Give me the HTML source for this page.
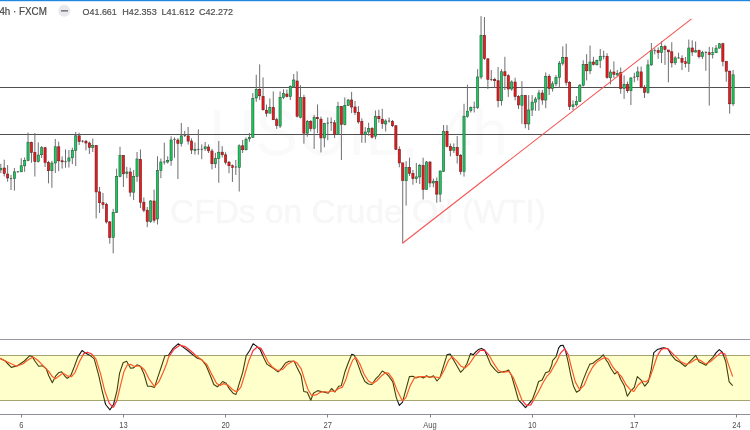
<!DOCTYPE html>
<html><head><meta charset="utf-8"><style>
html,body{margin:0;padding:0;width:750px;height:430px;overflow:hidden;background:#fff;}
svg{display:block;will-change:transform;}
text{font-family:"Liberation Sans",sans-serif;}
</style></head><body>
<svg width="750" height="430" viewBox="0 0 750 430">
<rect x="0" y="0" width="750" height="430" fill="#fff"/>
<text x="209" y="155" font-size="64" fill="#fafafa">USOIL, 4h</text>
<text x="170" y="223" font-size="33.5" fill="#f7f7f7" stroke="#f7f7f7" stroke-width="0.5">CFDs on Crude Oil (WTI)</text>
<rect x="0" y="87" width="750" height="1" fill="#4f4f4f"/>
<rect x="0" y="134" width="750" height="1" fill="#4f4f4f"/>
<path d="M0.8 163.8V173.1M4.21 159.7V176.4M7.61 165V181.7M11.02 174.9V190M14.42 168V190.7M17.83 171V172.5M21.24 158.2V172M24.64 157.5V171.8M28.05 132.5V161.3M31.45 141.6V162.8M34.86 133V176.5M38.27 142.4V162.5M41.67 146V158M45.08 146.8V166.9M48.48 160.8V183.4M51.89 160.8V187.8M55.3 139V173M58.7 141.6V171.2M62.11 156.4V168.6M65.51 149.4V167.7M68.92 150V167.5M72.33 147.7V164.2M75.73 132V166M79.14 132.8V145M82.54 140V142.5M85.95 139.8V150.3M89.36 141.6V154M92.76 138.6V152M96.17 145V218.4M99.57 187V213M102.98 193V208.8M106.39 202.7V223.6M109.79 221V243.7M113.2 208.8V253.3M116.6 168.6V213M120.01 146.8V177.3M123.42 155V187M126.82 166.9V178.2M130.23 167.7V196.5M133.63 170V200M137.04 152V181.8M140.45 149.4V208M143.85 197.5V212.3M147.26 207V227.2M150.66 200V222.8M154.07 189.7V222.8M157.48 156.3V224.5M160.88 158.5V178.2M164.29 142.7V164.6M167.69 156.3V163.5M171.1 136.3V165.8M174.51 137.4V157.8M177.91 138.1V179M181.32 123V146.5M184.72 130.9V137M188.13 127V144.5M191.54 138.4V154M194.94 142.5V154.6M198.35 129.4V154.6M201.75 144.4V159.2M205.16 142V151M208.57 144.4V153M211.97 148.8V169.3M215.38 152.8V168M218.78 141V182.8M222.19 146.2V157.5M225.6 152.3V164.5M229 161V173.2M232.41 164.5V182M235.81 160V175M239.22 144.4V191.5M242.63 140V153M246.03 137.5V150.5M249.44 133V141.8M252.84 93.1V138M256.25 74.8V101.9M259.66 64.4V100M263.06 77.4V110.6M266.47 104.5V116.7M269.87 98.4V113.2M273.28 91.4V120.2M276.69 117.6V128.9M280.09 91.4V128M283.5 89.3V99.2M286.9 89.5V97.5M290.31 85.3V100M293.72 74V88M297.12 71.3V117.6M300.53 85.2V118.4M303.93 94.8V143.7M307.34 120V136.7M310.75 120V131.5M314.15 114.9V148.9M317.56 104.4V133.2M320.96 116.6V152.4M324.37 122.7V147.2M327.78 117.5V140.2M331.18 117.4V130.8M334.59 120V138M337.99 101.8V135M341.4 106V160M344.81 97.4V125.4M348.21 99V106M351.62 91.9V113.1M355.02 101V115M358.43 106.2V123.6M361.84 118.4V142.8M365.24 127.1V142.8M368.65 122.7V135.8M372.05 127.1V138.4M375.46 110.5V139.3M378.87 109.7V122.7M382.27 108.8V128.8M385.68 119.2V131.5M389.08 117.5V122.7M392.49 120V127.1M395.9 125.5V150M399.3 146.3V167.3M402.71 162.9V243.3M406.11 161.2V205.6M409.52 157.7V176M412.93 169.9V184.7M416.33 162.9V183M419.74 163.8V184M423.14 157.7V199.5M426.55 161V190M429.96 161.2V187.3M433.36 178.6V187.3M436.77 177.5V202.8M440.17 170.5V202M443.58 125V172M446.99 125V147.3M450.39 143.5V156.3M453.8 143.5V153M457.2 136V163.5M460.61 154V174.5M464.02 103.8V176.6M467.42 84.7V117.8M470.83 106.5V112.5M474.23 101.6V112.5M477.64 69.2V109M481.05 16.1V79.2M484.45 17V60M487.86 58.5V89M491.26 70V81.2M494.67 77.7V88.1M498.08 67V107.3M501.48 69.2V105.6M504.89 56.8V90M508.29 74.2V96.9M511.7 80.3V90.8M515.11 77.7V100.4M518.51 95.1V109M521.92 81.2V123.9M525.32 95V128.3M528.73 95.1V130M532.14 95.1V116M535.54 96.9V110.8M538.95 89.9V110.8M542.35 90V104.7M545.76 72.4V108.2M549.17 74.2V95.1M552.57 81.2V91.6M555.98 75V86.4M559.38 61V87.5M562.79 46.3V65.5M566.2 43.7V85.6M569.6 81.2V110M573.01 100.4V110M576.41 96V106.5M579.82 84V102M583.23 60.3V86.5M586.63 54.2V80.4M590.04 45.5V74.2M593.44 56.8V65.5M596.85 59.5V65.5M600.26 49V68.1M603.66 50.7V59.4M607.07 53.3V78.6M610.47 69.5V84.3M613.88 61.4V78M617.29 70V76.2M620.69 67.5V93.7M624.1 75.4V98.9M627.5 81.5V92.8M630.91 77V105M634.32 72.7V82.3M637.72 66.6V80.6M641.13 66.6V88.4M644.53 85V98M647.94 59.7V93.7M651.35 43V65.8M654.75 48.3V54.4M658.16 47.4V58.8M661.56 41.3V63.1M664.97 44.8V64.9M668.38 50V82.3M671.78 42.2V67.5M675.19 56.2V64.9M678.59 52.7V58.8M682 55.3V70.1M685.41 57V67.5M688.81 39.6V71.9M692.22 40.3V55.9M695.62 41.5V52.7M699.03 49.5V58.5M702.44 50.8V59M705.84 51.3V70.8M709.25 46.9V105.6M712.65 47.2V58.5M716.06 45V53M719.47 43V48.5M722.87 42.8V66.4M726.28 61.2V81.7M729.68 70.5V113.7M733.09 70V106" stroke="#6f6f73" stroke-width="1" fill="none"/><g fill="#16cc5e" stroke="#2a5a3a" stroke-width="0.6"><rect x="-0.3" y="168.5" width="2.2" height="1.4"/><rect x="13.32" y="171.8" width="2.2" height="6.8"/><rect x="20.14" y="165.8" width="2.2" height="6"/><rect x="23.54" y="160.5" width="2.2" height="5.3"/><rect x="26.95" y="142.4" width="2.2" height="18.1"/><rect x="37.17" y="155" width="2.2" height="6.6"/><rect x="40.57" y="147.7" width="2.2" height="7"/><rect x="50.79" y="163" width="2.2" height="7.7"/><rect x="54.2" y="146.8" width="2.2" height="16.2"/><rect x="67.82" y="157.9" width="2.2" height="3.2"/><rect x="71.23" y="150.3" width="2.2" height="7.5"/><rect x="74.63" y="135.8" width="2.2" height="14.5"/><rect x="91.66" y="145.6" width="2.2" height="1.7"/><rect x="112.1" y="212.3" width="2.2" height="25.3"/><rect x="115.5" y="176.5" width="2.2" height="35.8"/><rect x="118.91" y="155.5" width="2.2" height="21"/><rect x="125.72" y="172" width="2.2" height="1.5"/><rect x="132.53" y="176.5" width="2.2" height="15.7"/><rect x="135.94" y="159" width="2.2" height="17.5"/><rect x="149.56" y="201" width="2.2" height="20.4"/><rect x="156.38" y="170.5" width="2.2" height="48.5"/><rect x="159.78" y="162" width="2.2" height="8.5"/><rect x="166.59" y="160.5" width="2.2" height="1.5"/><rect x="170" y="140" width="2.2" height="20.5"/><rect x="180.22" y="135.9" width="2.2" height="7.5"/><rect x="193.84" y="149.3" width="2.2" height="1"/><rect x="204.06" y="146.8" width="2.2" height="2"/><rect x="214.28" y="158.4" width="2.2" height="5.3"/><rect x="217.68" y="152.2" width="2.2" height="6.2"/><rect x="238.12" y="145.8" width="2.2" height="21.6"/><rect x="244.93" y="139.2" width="2.2" height="10.5"/><rect x="248.34" y="137.4" width="2.2" height="1.4"/><rect x="251.74" y="98.4" width="2.2" height="39"/><rect x="255.15" y="89.3" width="2.2" height="8.7"/><rect x="268.77" y="107.4" width="2.2" height="5.8"/><rect x="278.99" y="97.5" width="2.2" height="28.5"/><rect x="282.4" y="93.5" width="2.2" height="4"/><rect x="289.21" y="86.5" width="2.2" height="10.1"/><rect x="292.62" y="80" width="2.2" height="6.5"/><rect x="299.43" y="97.4" width="2.2" height="20.1"/><rect x="306.24" y="121.5" width="2.2" height="11.7"/><rect x="313.05" y="117.5" width="2.2" height="11"/><rect x="323.27" y="123.6" width="2.2" height="14.3"/><rect x="336.89" y="106.5" width="2.2" height="27.9"/><rect x="343.71" y="105.3" width="2.2" height="19.2"/><rect x="347.11" y="100" width="2.2" height="5.3"/><rect x="364.14" y="132" width="2.2" height="2.4"/><rect x="367.55" y="128.5" width="2.2" height="3.5"/><rect x="374.36" y="116.3" width="2.2" height="19.9"/><rect x="384.58" y="121" width="2.2" height="3"/><rect x="405.01" y="167.3" width="2.2" height="13.4"/><rect x="415.23" y="176.9" width="2.2" height="1.7"/><rect x="418.64" y="165.5" width="2.2" height="11.4"/><rect x="425.45" y="162" width="2.2" height="27.4"/><rect x="432.26" y="181.2" width="2.2" height="1.8"/><rect x="439.07" y="171" width="2.2" height="23.1"/><rect x="442.48" y="131.3" width="2.2" height="40.1"/><rect x="452.7" y="147.3" width="2.2" height="3.2"/><rect x="462.92" y="116.2" width="2.2" height="55.2"/><rect x="466.32" y="111.2" width="2.2" height="5.2"/><rect x="469.73" y="107.5" width="2.2" height="3.1"/><rect x="476.54" y="77" width="2.2" height="30.3"/><rect x="479.95" y="35.3" width="2.2" height="41.7"/><rect x="500.38" y="71.7" width="2.2" height="29"/><rect x="510.6" y="82" width="2.2" height="7"/><rect x="520.82" y="95.5" width="2.2" height="9.7"/><rect x="527.63" y="110" width="2.2" height="13.9"/><rect x="531.04" y="102.1" width="2.2" height="7.9"/><rect x="534.44" y="99" width="2.2" height="3.1"/><rect x="537.85" y="93" width="2.2" height="6"/><rect x="544.66" y="76.3" width="2.2" height="23.7"/><rect x="551.47" y="83.8" width="2.2" height="4.7"/><rect x="554.88" y="77.5" width="2.2" height="6.3"/><rect x="558.28" y="63.2" width="2.2" height="14.3"/><rect x="561.69" y="57.3" width="2.2" height="5.9"/><rect x="571.91" y="104.8" width="2.2" height="1.7"/><rect x="575.31" y="101.3" width="2.2" height="3.5"/><rect x="578.72" y="85.2" width="2.2" height="16.4"/><rect x="582.13" y="64.3" width="2.2" height="20.9"/><rect x="588.94" y="62" width="2.2" height="8.8"/><rect x="595.75" y="60.3" width="2.2" height="4.4"/><rect x="599.16" y="56.3" width="2.2" height="4"/><rect x="609.37" y="72" width="2.2" height="5.8"/><rect x="616.19" y="73.3" width="2.2" height="1.7"/><rect x="623" y="84.4" width="2.2" height="4"/><rect x="629.81" y="78" width="2.2" height="12.7"/><rect x="636.62" y="71.9" width="2.2" height="4.8"/><rect x="646.84" y="64.9" width="2.2" height="27.5"/><rect x="650.25" y="50.6" width="2.2" height="14.3"/><rect x="660.46" y="46.6" width="2.2" height="6.1"/><rect x="674.09" y="57.9" width="2.2" height="4.9"/><rect x="687.71" y="48" width="2.2" height="15.5"/><rect x="694.52" y="50.7" width="2.2" height="1.3"/><rect x="701.34" y="52.6" width="2.2" height="4.1"/><rect x="711.55" y="52.7" width="2.2" height="1.6"/><rect x="714.96" y="48.1" width="2.2" height="4.7"/><rect x="718.37" y="43.7" width="2.2" height="4.4"/><rect x="731.99" y="74.8" width="2.2" height="29"/></g><g fill="#ea1a1f" stroke="#6e1c1c" stroke-width="0.6"><rect x="3.11" y="168" width="2.2" height="5.4"/><rect x="6.51" y="174.1" width="2.2" height="3.8"/><rect x="30.35" y="142.4" width="2.2" height="10.1"/><rect x="33.76" y="152.4" width="2.2" height="9.2"/><rect x="43.98" y="147.7" width="2.2" height="14.8"/><rect x="47.38" y="162.5" width="2.2" height="8.2"/><rect x="57.6" y="146.8" width="2.2" height="14"/><rect x="61.01" y="160.8" width="2.2" height="1"/><rect x="78.04" y="135.8" width="2.2" height="5.8"/><rect x="84.85" y="141.2" width="2.2" height="1.8"/><rect x="88.26" y="143" width="2.2" height="4.3"/><rect x="95.07" y="145.6" width="2.2" height="46.3"/><rect x="98.47" y="191.9" width="2.2" height="10.8"/><rect x="101.88" y="202.7" width="2.2" height="1.7"/><rect x="105.29" y="204.4" width="2.2" height="17.5"/><rect x="108.69" y="221.9" width="2.2" height="15.7"/><rect x="122.32" y="155.5" width="2.2" height="18.3"/><rect x="129.13" y="172" width="2.2" height="20.2"/><rect x="139.35" y="159.5" width="2.2" height="42.7"/><rect x="142.75" y="202.2" width="2.2" height="8"/><rect x="146.16" y="210.2" width="2.2" height="11.2"/><rect x="152.97" y="201" width="2.2" height="19.2"/><rect x="176.81" y="140" width="2.2" height="3.4"/><rect x="187.03" y="135.9" width="2.2" height="5.2"/><rect x="190.44" y="141.1" width="2.2" height="8.9"/><rect x="207.47" y="147" width="2.2" height="3.8"/><rect x="210.87" y="151" width="2.2" height="12.7"/><rect x="221.09" y="152.2" width="2.2" height="2.5"/><rect x="224.5" y="154.9" width="2.2" height="7.3"/><rect x="227.9" y="162.2" width="2.2" height="3.5"/><rect x="231.31" y="165.7" width="2.2" height="1.7"/><rect x="241.53" y="145.8" width="2.2" height="3.9"/><rect x="258.56" y="89.3" width="2.2" height="6.5"/><rect x="261.96" y="96.3" width="2.2" height="13.4"/><rect x="265.37" y="110.2" width="2.2" height="3"/><rect x="272.18" y="107.4" width="2.2" height="12.3"/><rect x="275.59" y="119.7" width="2.2" height="5.7"/><rect x="285.8" y="94" width="2.2" height="2.6"/><rect x="296.02" y="81" width="2.2" height="35.2"/><rect x="302.83" y="97.4" width="2.2" height="35.8"/><rect x="309.65" y="121.5" width="2.2" height="7"/><rect x="316.46" y="117.5" width="2.2" height="1.2"/><rect x="319.86" y="119.2" width="2.2" height="18.7"/><rect x="333.49" y="122.7" width="2.2" height="11.7"/><rect x="340.3" y="106.5" width="2.2" height="18"/><rect x="350.52" y="100" width="2.2" height="7"/><rect x="353.92" y="107" width="2.2" height="5.3"/><rect x="357.33" y="112.3" width="2.2" height="9.6"/><rect x="360.74" y="121.5" width="2.2" height="12.9"/><rect x="370.95" y="128.5" width="2.2" height="8.7"/><rect x="377.77" y="116.3" width="2.2" height="2.4"/><rect x="381.17" y="119.2" width="2.2" height="4.4"/><rect x="391.39" y="121.5" width="2.2" height="4.2"/><rect x="394.8" y="125.7" width="2.2" height="23.6"/><rect x="398.2" y="149.3" width="2.2" height="13.6"/><rect x="401.61" y="162.9" width="2.2" height="17.5"/><rect x="408.42" y="167.3" width="2.2" height="6.1"/><rect x="411.83" y="173.4" width="2.2" height="5.2"/><rect x="422.04" y="165.5" width="2.2" height="23.9"/><rect x="428.86" y="162" width="2.2" height="21"/><rect x="435.67" y="181.5" width="2.2" height="12.6"/><rect x="445.89" y="131.3" width="2.2" height="15"/><rect x="449.29" y="146.3" width="2.2" height="4.2"/><rect x="456.1" y="147.3" width="2.2" height="8.2"/><rect x="459.51" y="155.3" width="2.2" height="16.1"/><rect x="483.35" y="35.3" width="2.2" height="23.3"/><rect x="486.76" y="58.8" width="2.2" height="20.6"/><rect x="493.57" y="79.4" width="2.2" height="1.3"/><rect x="496.98" y="80.7" width="2.2" height="20"/><rect x="503.79" y="71.7" width="2.2" height="4"/><rect x="507.19" y="75.7" width="2.2" height="13.3"/><rect x="514.01" y="82" width="2.2" height="14.5"/><rect x="517.41" y="96.5" width="2.2" height="8.5"/><rect x="524.22" y="95.5" width="2.2" height="28.4"/><rect x="541.25" y="93" width="2.2" height="7"/><rect x="548.07" y="76.3" width="2.2" height="12.2"/><rect x="565.1" y="57.3" width="2.2" height="25.1"/><rect x="568.5" y="82.4" width="2.2" height="24.1"/><rect x="585.53" y="64.3" width="2.2" height="6.5"/><rect x="592.34" y="62" width="2.2" height="2.3"/><rect x="605.97" y="56.3" width="2.2" height="21.2"/><rect x="612.78" y="72" width="2.2" height="2.3"/><rect x="619.59" y="72.7" width="2.2" height="15.7"/><rect x="626.4" y="84.4" width="2.2" height="6.3"/><rect x="640.03" y="71.9" width="2.2" height="15.3"/><rect x="643.43" y="87.2" width="2.2" height="5.2"/><rect x="657.06" y="50.6" width="2.2" height="2.1"/><rect x="663.87" y="46.6" width="2.2" height="2.9"/><rect x="667.28" y="50" width="2.2" height="1.8"/><rect x="670.68" y="51.8" width="2.2" height="11"/><rect x="680.9" y="58.3" width="2.2" height="4"/><rect x="684.31" y="61.7" width="2.2" height="1.8"/><rect x="691.12" y="48" width="2.2" height="4"/><rect x="697.93" y="50.4" width="2.2" height="6.3"/><rect x="708.15" y="52.7" width="2.2" height="1.6"/><rect x="721.77" y="43.7" width="2.2" height="17.7"/><rect x="725.18" y="61.4" width="2.2" height="9.8"/><rect x="728.58" y="71.2" width="2.2" height="32.6"/></g><rect x="9.92" y="178.1" width="2.2" height="1" fill="#4a5a50"/><rect x="16.73" y="171.3" width="2.2" height="1" fill="#4a5a50"/><rect x="64.41" y="161.1" width="2.2" height="1" fill="#4a5a50"/><rect x="81.44" y="140.7" width="2.2" height="1" fill="#4a5a50"/><rect x="163.19" y="161.5" width="2.2" height="1" fill="#4a5a50"/><rect x="173.41" y="138.9" width="2.2" height="1" fill="#4a5a50"/><rect x="183.62" y="135" width="2.2" height="1" fill="#4a5a50"/><rect x="197.25" y="148.9" width="2.2" height="1" fill="#4a5a50"/><rect x="200.65" y="148.8" width="2.2" height="1" fill="#4a5a50"/><rect x="234.71" y="166.5" width="2.2" height="1" fill="#4a5a50"/><rect x="326.68" y="122.6" width="2.2" height="1" fill="#4a5a50"/><rect x="330.08" y="121.95" width="2.2" height="1" fill="#4a5a50"/><rect x="387.98" y="120.5" width="2.2" height="1" fill="#4a5a50"/><rect x="473.13" y="106.8" width="2.2" height="1" fill="#4a5a50"/><rect x="490.16" y="78.9" width="2.2" height="1" fill="#4a5a50"/><rect x="602.56" y="55.8" width="2.2" height="1" fill="#4a5a50"/><rect x="633.22" y="76.6" width="2.2" height="1" fill="#4a5a50"/><rect x="653.65" y="50.1" width="2.2" height="1" fill="#4a5a50"/><rect x="677.49" y="57.4" width="2.2" height="1" fill="#4a5a50"/><rect x="704.74" y="51.9" width="2.2" height="1" fill="#4a5a50"/>
<line x1="402.5" y1="243.3" x2="691.5" y2="18.9" stroke="#f45656" stroke-width="1.15"/>
<rect x="0" y="0" width="750" height="1.2" fill="#1e88e5"/>
<g font-size="10.5" fill="#484848" stroke="#484848" stroke-width="0.2">
<text x="-0.6" y="14.8" textLength="47.4" lengthAdjust="spacingAndGlyphs">4h · FXCM</text>
</g>
<circle cx="64.3" cy="10.7" r="6" fill="#e9e9ed"/>
<rect x="61" y="10" width="7" height="1.6" fill="#7b7b80"/>
<g font-size="9.3" fill="#505050" stroke="#505050" stroke-width="0.2">
<text x="82.6" y="15.1" textLength="34.2" lengthAdjust="spacingAndGlyphs">O41.661</text>
<text x="122.3" y="15.1" textLength="34.4" lengthAdjust="spacingAndGlyphs">H42.353</text>
<text x="161.4" y="15.1" textLength="33.2" lengthAdjust="spacingAndGlyphs">L41.612</text>
<text x="199" y="15.1" textLength="34" lengthAdjust="spacingAndGlyphs">C42.272</text>
</g>
<rect x="0" y="339" width="750" height="1" fill="#9598a1"/>
<rect x="0" y="355" width="750" height="1" fill="#8f8f8f"/>
<rect x="0" y="400" width="750" height="1" fill="#8f8f8f"/>
<polyline points="0,358.3 5.2,361 11.3,367.4 17.4,365.8 24.4,361 29.7,355.7 32.3,356.6 34.9,361 38.7,366.2 42.7,365.8 46.2,368.8 48.8,375.8 52.3,382.7 55.8,375.8 58.5,372.8 61.6,371.7 64.6,375.8 67.2,378.4 70.7,375.8 74.2,367 77.7,357.4 82,350.5 85.5,353.1 91.6,356.6 94.2,358.8 98.6,374.9 102.1,390.6 105.6,404.5 110,409.8 113.5,404.5 117,390.6 119.6,373.1 123.1,362.7 126.6,361.3 130.6,368.3 133.5,367.9 137,364.8 140.5,366.2 144,374 147.5,386.2 151,386.2 154.5,387.4 158,376.6 161.5,366.2 165,355.7 168.5,355.3 172.8,348.7 178.1,343.8 182.4,346.6 187.7,350.5 192.9,354.8 197.3,358.3 201.6,359.5 206,365.3 210.4,375.8 213.8,384.5 217.3,386.7 220,384.5 222.6,381.5 226.1,383.3 229.6,389.2 233.1,393.2 236,394.4 239.2,383.6 242.7,372.3 246.2,355.7 249.7,350.5 253.1,343.8 256.6,346.1 260.1,349.6 263.6,357.4 267.1,364.4 270.6,366.5 274.1,368.8 277.6,371.7 278.5,371.7 282,367.9 285.5,363 289,361.3 292.4,361.3 294.2,361.3 296.8,367 301.2,375.8 303.8,391.5 307.3,392.3 310.8,400.2 313.4,393.2 317.7,390.6 321.2,391.5 324.7,392.3 328.2,393.2 331.5,388.5 334.9,392 338.7,386.2 341.3,385.7 344.8,372.3 348.3,362.7 351.8,354.3 354.4,355.3 357.9,364.4 361.4,374 364.9,381.5 368.4,384 371.9,384.5 375.4,379.2 378.8,375.8 382.3,371 385.8,373.1 388.5,375.8 392.8,381.9 396.3,397.6 399.3,405.4 402.4,402.4 405.9,389.7 409.4,376.6 412.9,376.3 416,378 419.9,376.6 423.4,378 426.5,375.8 430,377.5 433.5,375.8 437,381 440,377.5 443.5,366.2 447,354.8 450.1,354 453.1,359.2 456.6,365.3 460.6,372.3 463.5,369.3 467,363.5 470.5,353.6 473.1,354.8 475.8,351.9 478.4,349.6 481.5,348.4 484.5,350.1 487.1,355.7 490.6,364.4 494.9,369.7 498.4,372.8 502,371.7 505.5,371.4 508.6,370 511.6,375.8 515.1,388 518.5,400.2 522,403.7 525.5,407.7 529,403.7 532.5,399.3 536,389.7 538.6,381.5 542.1,380.1 545.6,372.8 549.1,371.4 551.7,365.3 552.6,360.6 556.1,356.6 558.7,347.8 560.5,345.6 563.1,345.2 565.7,351.3 568.3,362.7 570.9,375.8 573.5,386.2 576.5,392.3 579.7,390.2 583.1,380.1 586.6,371.4 589.8,364.1 592.7,363.5 595.7,360.9 599.7,358.3 603.2,354.8 606.7,360.9 607.6,361.8 611.1,368.8 614.6,374 617.6,371.7 620.7,379.2 624.2,385.4 627.3,396.2 630.8,390.9 634.3,387.4 637.3,376.6 640.8,379.8 644.8,386.2 648.3,381.9 651.2,369.7 653.8,352.6 657.3,349.6 660.8,348.4 663.5,347.8 667.8,348.7 671.3,354.8 675.7,360.1 680.1,362.3 685.3,366.5 688.8,362.7 692.3,359.2 695.7,355.3 699,361.8 702.5,363.5 705.9,365.3 709.4,360.9 712.9,357.4 716.2,352.6 719.3,349.6 722.3,352.2 725.8,361.8 729.2,381.9 732.7,385.7" fill="none" stroke="#111" stroke-width="1.1" stroke-linejoin="round"/>
<polyline points="0,358.3 7,361.8 16.6,366.2 22.7,364 27.9,360 33.1,357 37.5,360 43.6,366.2 48.8,371.4 52.3,376.6 55.4,378.7 59.4,375.8 62.8,373.1 67.2,375.8 71.6,376.6 75.1,372.3 79.4,361.8 83.8,353.6 87.3,352.2 91.6,354 96,359.2 100.4,373.1 104.7,390.6 109.1,402.8 112.6,407.2 113.5,407.2 117,400.2 120.5,385.4 124,371.4 127.4,364.8 130.9,364.4 134.4,366.5 137.9,365.8 141.4,367 144.9,370.5 149.2,379.2 154.5,386.7 158.8,381.9 163.2,372.3 166.7,363.5 168.5,357.4 173.7,349.6 179.8,345.2 185.1,346.6 190.3,350.5 195.5,355.3 200.8,359.2 206.9,364.4 212.1,374.9 216.5,383.3 220,385.5 223.5,383.6 227.8,385 232.2,389.2 236.6,392 240.9,387.1 244.4,375.8 248.8,360.9 253.1,350.5 257.5,347 261,348.4 264.5,354.8 268,361.8 272.3,367 276.7,370 279.4,370.5 282.8,369.3 287.2,364.4 293.3,360.9 296.8,362.7 301.2,368.8 304.7,380.1 308.1,389.7 311.6,395.5 316,394.9 320.4,392.3 324.7,391.5 328.2,392.3 331.7,391 334.4,391.5 338.7,388.5 342.2,387.4 345.7,380.1 349.2,368.8 352.7,360.1 355.8,357.4 359.7,363.5 364,374 368.4,381 372.7,383.6 377.1,380.5 381.5,375.8 385.5,372.8 388.5,373.1 392.8,379.2 397.2,390.6 402.4,401 405.9,397.6 410.3,385.4 414.7,377.5 419.9,376.6 425.1,376.6 430.4,377 435.6,377 440,377.8 444.4,369.7 448.7,360.1 452.2,356.6 456.6,360.9 460.9,366.2 465.3,367.9 469.7,363.5 474.9,355.7 480.1,350.5 484.5,350.1 488.8,354.8 493.2,362.7 495,365.3 498.5,370.5 502.8,372.3 509,371.4 513.3,377.5 517.7,388.8 522,400.2 526.4,405.4 530.8,404.9 534.2,399.3 538.6,391.5 543,382.7 547.3,375.8 550,373.1 553.5,367 557,360.9 560.5,353.1 564.8,348.7 568.3,354.8 571.8,368.8 575.3,381.9 579.7,389.7 584,385.4 588.4,374.9 592.7,367 597.1,361.8 601.5,359.2 604.9,357.4 608.5,359.2 612.8,367 617.2,372.3 621.6,376.6 625.9,384.5 630.3,389.7 633.8,391.5 638.1,385 642.5,381 646,381.9 649.5,378.7 653,368.8 657.3,355.7 660.8,350.1 663.5,348.4 667.8,348.7 672.2,353.1 676.6,357.4 680.9,361.8 686.2,364.4 690.5,362.7 695.8,359.2 700.3,360.3 705.5,364 710.3,361.8 716.2,356.6 721,352.6 724.9,354 728.4,364.4 732.7,376.6" fill="none" stroke="#ff3030" stroke-width="1.2" stroke-linejoin="round"/>
<rect x="0" y="355" width="750" height="46" fill="#ffff00" fill-opacity="0.2"/>
<rect x="0" y="414" width="750" height="1" fill="#8d8f99"/>
<g font-size="8.6" fill="#505050">
<line x1="21.5" y1="414" x2="21.5" y2="417.5" stroke="#80838c" stroke-width="1"/><text x="21.24" y="428.2" text-anchor="middle" textLength="4.21" lengthAdjust="spacingAndGlyphs">6</text><line x1="123.5" y1="414" x2="123.5" y2="417.5" stroke="#80838c" stroke-width="1"/><text x="123.42" y="428.2" text-anchor="middle" textLength="8.42" lengthAdjust="spacingAndGlyphs">13</text><line x1="225.5" y1="414" x2="225.5" y2="417.5" stroke="#80838c" stroke-width="1"/><text x="225.6" y="428.2" text-anchor="middle" textLength="8.42" lengthAdjust="spacingAndGlyphs">20</text><line x1="327.5" y1="414" x2="327.5" y2="417.5" stroke="#80838c" stroke-width="1"/><text x="327.78" y="428.2" text-anchor="middle" textLength="8.42" lengthAdjust="spacingAndGlyphs">27</text><line x1="430.5" y1="414" x2="430.5" y2="417.5" stroke="#80838c" stroke-width="1"/><text x="429.96" y="428.2" text-anchor="middle" textLength="13.46" lengthAdjust="spacingAndGlyphs">Aug</text><line x1="532.5" y1="414" x2="532.5" y2="417.5" stroke="#80838c" stroke-width="1"/><text x="532.14" y="428.2" text-anchor="middle" textLength="8.42" lengthAdjust="spacingAndGlyphs">10</text><line x1="634.5" y1="414" x2="634.5" y2="417.5" stroke="#80838c" stroke-width="1"/><text x="634.32" y="428.2" text-anchor="middle" textLength="8.42" lengthAdjust="spacingAndGlyphs">17</text><line x1="736.5" y1="414" x2="736.5" y2="417.5" stroke="#80838c" stroke-width="1"/><text x="736.5" y="428.2" text-anchor="middle" textLength="8.42" lengthAdjust="spacingAndGlyphs">24</text>
</g>
</svg>
</body></html>
